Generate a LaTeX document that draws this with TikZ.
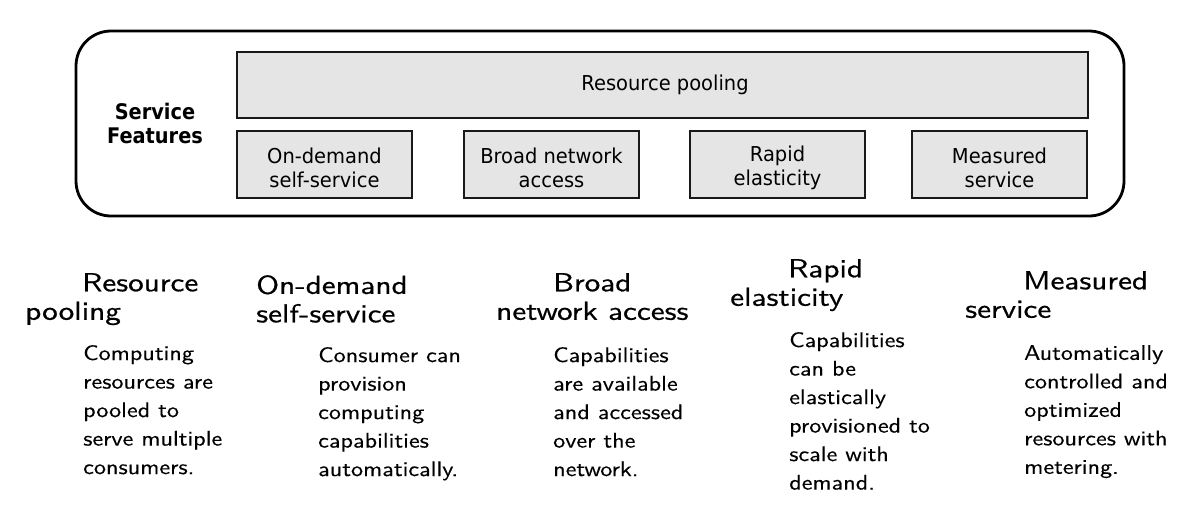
\documentclass[tikz,border=0pt]{standalone}
\usepackage{fontspec}
\newfontfamily\topfont{DejaVu Sans}[FakeStretch=0.95]
\newfontfamily\topbold{DejaVu Sans Bold}[FakeStretch=0.9]
\newfontfamily\headfont{lmsans10-regular}[Extension=.otf,FakeStretch=1.2,FakeBold=0.6]
\newfontfamily\bodyfont{lmsans10-regular}[Extension=.otf,FakeStretch=1.15,FakeBold=0.3]
\tikzset{
  outerbox/.style={draw=black,line width=2.8pt,rounded corners=35pt},
  featbox/.style={draw=black!90,line width=1.8pt,fill=black!10},
  boxtext/.style={font=\topfont\fontsize{20.5}{24}\selectfont,align=center,inner sep=0pt},
  sftext/.style={font=\topbold\fontsize{21.5}{24}\selectfont,align=center,inner sep=0pt},
  headtext/.style={font=\headfont\fontsize{26}{28.5}\selectfont,align=left,anchor=north west,inner sep=0pt},
  bodytext/.style={font=\bodyfont\fontsize{21}{28.5}\selectfont,align=left,anchor=north west,inner sep=0pt}
}
\begin{document}
\begin{tikzpicture}[x=1pt,y=-1pt]
\useasboundingbox (0,0) rectangle (1201,509);
\fill[white] (0,0) rectangle (1201,509);
% outer frame
\draw[outerbox] (76,31) rectangle (1124,216);
\node[sftext] (sf) at (155,123) {Service\\Features};
% feature boxes
\draw[featbox] (237,52) rectangle (1088,118);
\node[boxtext] (rp) at (665,85) {Resource pooling};
\draw[featbox] (237,131) rectangle (412,198);
\node[boxtext] (od) at (324.5,168) {On-demand\\self-service};
\draw[featbox] (464,131) rectangle (639,198);
\node[boxtext] (bn) at (551.5,168) {Broad network\\access};
\draw[featbox] (690,131) rectangle (865,198);
\node[boxtext] (re) at (777.5,168) {Rapid\\elasticity};
\draw[featbox] (912,131) rectangle (1087,198);
\node[boxtext] (ms) at (999.5,168) {Measured\\service};
% descriptions
\node[headtext] (h1) at (25,273) {\hspace*{57pt}Resource\\pooling};
\node[bodytext] (b1) at (83,345) {Computing\\resources are\\pooled to\\serve multiple\\consumers.};
\node[headtext] (h2) at (256,275) {On-demand\\self-service};
\node[bodytext] (b2) at (318,347) {Consumer can\\provision\\computing\\capabilities\\automatically.};
\node[headtext] (h3) at (496,273) {\hspace*{57pt}Broad\\network access};
\node[bodytext] (b3) at (553,347) {Capabilities\\are available\\and accessed\\over the\\network.};
\node[headtext] (h4) at (730,259) {\hspace*{58pt}Rapid\\elasticity};
\node[bodytext] (b4) at (789,332) {Capabilities\\can be\\elastically\\provisioned to\\scale with\\demand.};
\node[headtext] (h5) at (965,271) {\hspace*{58pt}Measured\\service};
\node[bodytext] (b5) at (1024,345) {Automatically\\controlled and\\optimized\\resources with\\metering.};
\end{tikzpicture}
\end{document}
